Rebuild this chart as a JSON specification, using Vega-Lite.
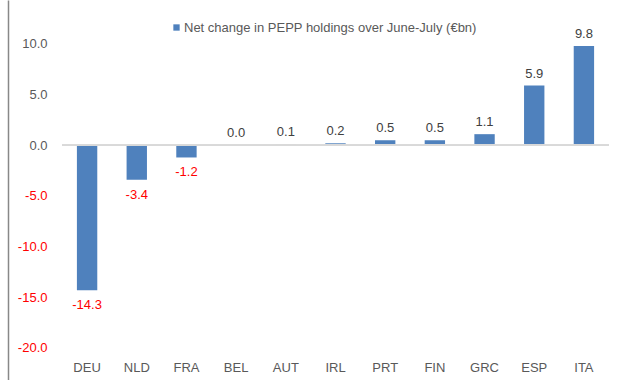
{
  "$schema": "https://vega.github.io/schema/vega-lite/v6.json",
  "width": 547,
  "height": 380,
  "autosize": {"type": "none"},
  "padding": {"left": 62, "top": 0, "right": 31, "bottom": 0},
  "background": "white",
  "config": {
    "font": "Liberation Sans",
    "view": {"stroke": null},
    "locale": {"number": {"decimal": ".", "thousands": ",", "grouping": [3], "currency": ["$", ""], "minus": "-"}}
  },
  "data": {
    "values": [
      {"country": "DEU", "value": -14.3, "series": "Net change in PEPP holdings over June-July (€bn)"},
      {"country": "NLD", "value": -3.4, "series": "Net change in PEPP holdings over June-July (€bn)"},
      {"country": "FRA", "value": -1.2, "series": "Net change in PEPP holdings over June-July (€bn)"},
      {"country": "BEL", "value": 0.0, "series": "Net change in PEPP holdings over June-July (€bn)"},
      {"country": "AUT", "value": 0.1, "series": "Net change in PEPP holdings over June-July (€bn)"},
      {"country": "IRL", "value": 0.2, "series": "Net change in PEPP holdings over June-July (€bn)"},
      {"country": "PRT", "value": 0.5, "series": "Net change in PEPP holdings over June-July (€bn)"},
      {"country": "FIN", "value": 0.5, "series": "Net change in PEPP holdings over June-July (€bn)"},
      {"country": "GRC", "value": 1.1, "series": "Net change in PEPP holdings over June-July (€bn)"},
      {"country": "ESP", "value": 5.9, "series": "Net change in PEPP holdings over June-July (€bn)"},
      {"country": "ITA", "value": 9.8, "series": "Net change in PEPP holdings over June-July (€bn)"}
    ]
  },
  "encoding": {
    "x": {
      "field": "country", "type": "nominal", "sort": null,
      "scale": {"paddingInner": 0.59, "paddingOuter": 0.3},
      "axis": {"title": null, "orient": "bottom", "offset": -22, "domain": false, "ticks": false, "labelPadding": 3, "labelFontSize": 13, "labelColor": "#595959", "labelAngle": 0}
    },
    "y": {
      "field": "value", "type": "quantitative",
      "scale": {"domain": [-23.16, 14.34], "nice": false, "zero": false},
      "axis": {"title": null, "values": [-20, -15, -10, -5, 0, 5, 10], "format": ".1f", "offset": 54, "domain": true, "domainColor": "#888888", "domainWidth": 1.5, "ticks": false, "tickSize": 0, "grid": false, "labelPadding": -39, "labelFontSize": 13,
        "labelColor": {"condition": {"test": "datum.value < 0", "value": "#FF0000"}, "value": "#595959"}}
    }
  },
  "layer": [
    {
      "mark": {"type": "bar"},
      "encoding": {
        "color": {
          "field": "series", "type": "nominal",
          "scale": {"range": ["#4F81BD"]},
          "legend": {"title": null, "orient": "none", "legendX": 108, "legendY": 21, "padding": 0, "symbolType": "square", "symbolSize": 40, "symbolStrokeWidth": 0, "labelOffset": 1, "labelFontSize": 13, "labelColor": "#595959", "labelLimit": 500, "symbolOpacity": 1}
        }
      }
    },
    {
      "mark": {"type": "rule", "color": "#D9D9D9", "strokeWidth": 1.5},
      "encoding": {"y": {"datum": 0}, "x": null}
    },
    {
      "transform": [{"filter": "datum.value >= 0"}],
      "mark": {"type": "text", "baseline": "bottom", "dy": -5, "fontSize": 13, "color": "#404040"},
      "encoding": {"text": {"field": "value", "type": "quantitative", "format": ".1f"}}
    },
    {
      "transform": [{"filter": "datum.value < 0"}],
      "mark": {"type": "text", "baseline": "top", "dy": 9, "fontSize": 13, "color": "#FF0000"},
      "encoding": {"text": {"field": "value", "type": "quantitative", "format": ".1f"}}
    }
  ]
}
